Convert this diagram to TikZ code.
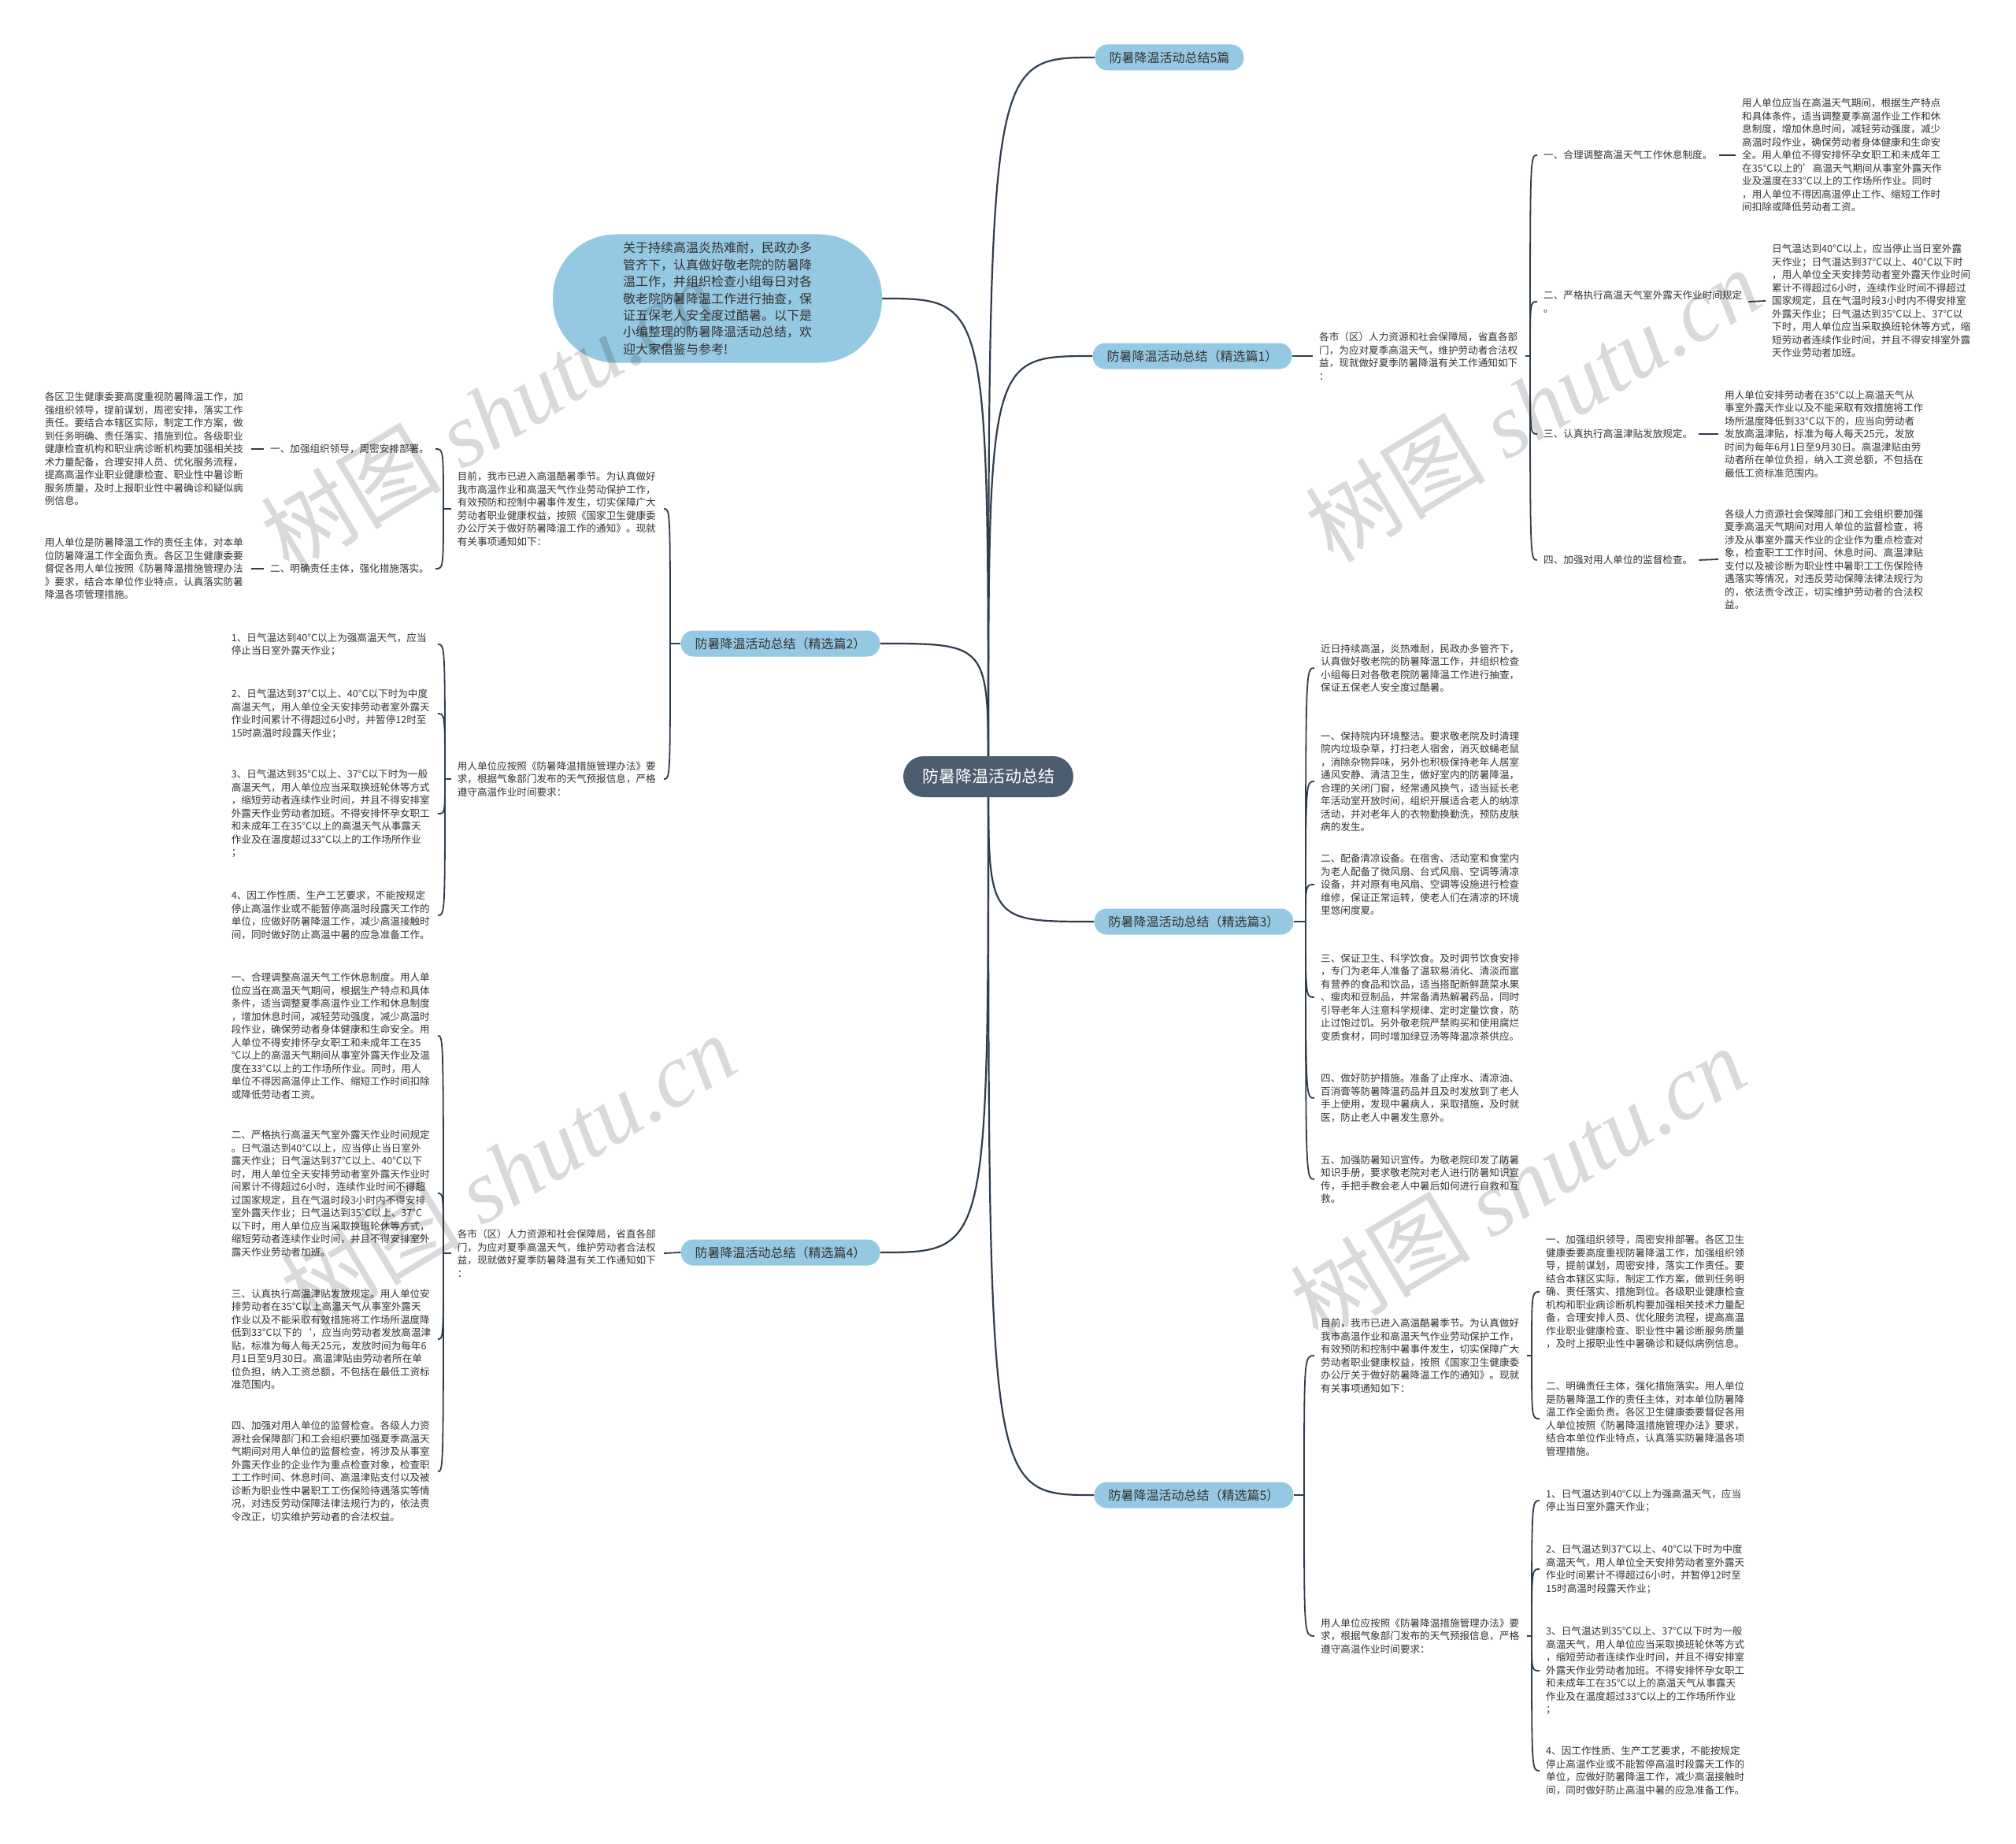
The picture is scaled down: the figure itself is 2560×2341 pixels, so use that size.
\documentclass[tikz,border=0pt]{standalone}
\usepackage{fontspec}
\setmainfont{Noto Sans CJK SC}
\newfontfamily\markfont{Liberation Serif}
\usetikzlibrary{positioning,backgrounds}

\definecolor{rootfill}{HTML}{4B5D6E}
\definecolor{topicfill}{HTML}{95C8E2}
\definecolor{linkcol}{HTML}{2F3E4E}
\definecolor{ink}{HTML}{333333}

% texts that appear twice
\newcommand{\noticeText}{各市（区）人力资源和社会保障局，省直各部\\门，为应对夏季高温天气，维护劳动者合法权\\益，现就做好夏季防暑降温有关工作通知如下\\：}
\newcommand{\muqianText}{目前，我市已进入高温酷暑季节。为认真做好\\我市高温作业和高温天气作业劳动保护工作，\\有效预防和控制中暑事件发生，切实保障广大\\劳动者职业健康权益，按照《国家卫生健康委\\办公厅关于做好防暑降温工作的通知》。现就\\有关事项通知如下：}
\newcommand{\yaoqiuText}{用人单位应按照《防暑降温措施管理办法》要\\求，根据气象部门发布的天气预报信息，严格\\遵守高温作业时间要求：}
\newcommand{\wenduA}{1、日气温达到40°C以上为强高温天气，应当\\停止当日室外露天作业；}
\newcommand{\wenduB}{2、日气温达到37°C以上、40°C以下时为中度\\高温天气，用人单位全天安排劳动者室外露天\\作业时间累计不得超过6小时，并暂停12时至\\15时高温时段露天作业；}
\newcommand{\wenduC}{3、日气温达到35°C以上、37°C以下时为一般\\高温天气，用人单位应当采取换班轮休等方式\\，缩短劳动者连续作业时间，并且不得安排室\\外露天作业劳动者加班。不得安排怀孕女职工\\和未成年工在35°C以上的高温天气从事露天\\作业及在温度超过33°C以上的工作场所作业\\；}
\newcommand{\wenduD}{4、因工作性质、生产工艺要求，不能按规定\\停止高温作业或不能暂停高温时段露天工作的\\单位，应做好防暑降温工作，减少高温接触时\\间，同时做好防止高温中暑的应急准备工作。}

\tikzset{
  rootnode/.style={fill=rootfill, text=white, rounded corners=26pt, minimum height=52pt, inner xsep=24pt, font=\fontsize{21}{25}\selectfont},
  topic/.style={fill=topicfill, text=ink, rounded corners=16pt, minimum height=33pt, inner xsep=18pt, font=\fontsize{16}{19}\selectfont},
  bubble/.style={fill=topicfill, text=ink, rounded corners=80pt, minimum width=418pt, minimum height=163pt, align=left, font=\fontsize{16}{21.4}\selectfont},
  lbl/.style={text=ink, align=left, inner xsep=8pt, inner ysep=1pt, font=\fontsize{12.6}{16.5}\selectfont},
  para/.style={lbl, text width=254pt},
  trunk/.style={draw=linkcol, line width=2.2pt},
  twig/.style={draw=linkcol, line width=1.8pt},
  wmark/.style={opacity=0.15, rotate=31, font=\fontsize{115}{120}\selectfont}
}

\begin{document}
\begin{tikzpicture}[x=1pt,y=-1pt]
\useasboundingbox (0,0) rectangle (2560,2341);

% centre, intro and topics
\node[rootnode] (root) at (1255,986) {防暑降温活动总结};
\node[bubble] (intro) at (911,379) {关于持续高温炎热难耐，民政办多\\管齐下，认真做好敬老院的防暑降\\温工作，并组织检查小组每日对各\\敬老院防暑降温工作进行抽查，保\\证五保老人安全度过酷暑。以下是\\小编整理的防暑降温活动总结，欢\\迎大家借鉴与参考!};
\node[topic] (b0) at (1485,73) {防暑降温活动总结5篇};
\node[topic] (b1) at (1514,452) {防暑降温活动总结（精选篇1）};
\node[topic] (b2) at (991,817) {防暑降温活动总结（精选篇2）};
\node[topic] (b3) at (1516,1170) {防暑降温活动总结（精选篇3）};
\node[topic] (b4) at (991,1590) {防暑降温活动总结（精选篇4）};
\node[topic] (b5) at (1516,1898) {防暑降温活动总结（精选篇5）};

% topic 1
\node[para, anchor=west] (t1) at (1667,452) {\noticeText};
\coordinate (j1) at (1943,452);
\node[lbl, anchor=west] (l1a) at (1952,197) {一、合理调整高温天气工作休息制度。};
\node[lbl, anchor=west] (l1b) at (1952,383) {二、严格执行高温天气室外露天作业时间规定\\。};
\node[lbl, anchor=west] (l1c) at (1952,551) {三、认真执行高温津贴发放规定。};
\node[lbl, anchor=west] (l1d) at (1952,711) {四、加强对用人单位的监督检查。};
\node[para, anchor=west] (d1a) at (2204,197) {用人单位应当在高温天气期间，根据生产特点\\和具体条件，适当调整夏季高温作业工作和休\\息制度，增加休息时间，减轻劳动强度，减少\\高温时段作业，确保劳动者身体健康和生命安\\全。用人单位不得安排怀孕女职工和未成年工\\在35°C以上的'高温天气期间从事室外露天作\\业及温度在33°C以上的工作场所作业。同时\\，用人单位不得因高温停止工作、缩短工作时\\间扣除或降低劳动者工资。};
\node[para, anchor=west] (d1b) at (2242,382) {日气温达到40°C以上，应当停止当日室外露\\天作业；日气温达到37°C以上、40°C以下时\\，用人单位全天安排劳动者室外露天作业时间\\累计不得超过6小时，连续作业时间不得超过\\国家规定，且在气温时段3小时内不得安排室\\外露天作业；日气温达到35°C以上、37°C以\\下时，用人单位应当采取换班轮休等方式，缩\\短劳动者连续作业时间，并且不得安排室外露\\天作业劳动者加班。};
\node[para, anchor=west] (d1c) at (2182,551) {用人单位安排劳动者在35°C以上高温天气从\\事室外露天作业以及不能采取有效措施将工作\\场所温度降低到33°C以下的，应当向劳动者\\发放高温津贴，标准为每人每天25元，发放\\时间为每年6月1日至9月30日。高温津贴由劳\\动者所在单位负担，纳入工资总额，不包括在\\最低工资标准范围内。};
\node[para, anchor=west] (d1d) at (2182,710) {各级人力资源社会保障部门和工会组织要加强\\夏季高温天气期间对用人单位的监督检查，将\\涉及从事室外露天作业的企业作为重点检查对\\象，检查职工工作时间、休息时间、高温津贴\\支付以及被诊断为职业性中暑职工工伤保险待\\遇落实等情况，对违反劳动保障法律法规行为\\的，依法责令改正，切实维护劳动者的合法权\\益。};
\draw[twig] (b1.east) -- (t1.west);
\draw[twig] (t1.east) -- (j1);
\foreach \p in {l1a,l1b,l1c,l1d}
  \draw[twig] (j1) .. controls (j1 |- \p.west) .. (\p.west);
\foreach \p/\q in {l1a/d1a,l1b/d1b,l1c/d1c,l1d/d1d}
  \draw[twig] (\p.east) -- (\q.west);

% topic 2
\coordinate (j2) at (851,817);
\node[para, anchor=east] (t2) at (843,646) {\muqianText};
\node[para, anchor=east] (t2b) at (843,989) {\yaoqiuText};
\coordinate (j2a) at (563,646);
\node[lbl, anchor=east] (k1l) at (553,570) {一、加强组织领导，周密安排部署。};
\node[lbl, anchor=east] (k2l) at (553,722) {二、明确责任主体，强化措施落实。};
\node[para, anchor=east] (k1) at (319,570) {各区卫生健康委要高度重视防暑降温工作，加\\强组织领导，提前谋划，周密安排，落实工作\\责任。要结合本辖区实际，制定工作方案，做\\到任务明确、责任落实、措施到位。各级职业\\健康检查机构和职业病诊断机构要加强相关技\\术力量配备，合理安排人员、优化服务流程，\\提高高温作业职业健康检查、职业性中暑诊断\\服务质量，及时上报职业性中暑确诊和疑似病\\例信息。};
\node[para, anchor=east] (k2) at (319,722) {用人单位是防暑降温工作的责任主体，对本单\\位防暑降温工作全面负责。各区卫生健康委要\\督促各用人单位按照《防暑降温措施管理办法\\》要求，结合本单位作业特点，认真落实防暑\\降温各项管理措施。};
\coordinate (j2b) at (565,989);
\node[para, anchor=east] (i1) at (556,818) {\wenduA};
\node[para, anchor=east] (i2) at (556,906) {\wenduB};
\node[para, anchor=east] (i3) at (556,1033) {\wenduC};
\node[para, anchor=east] (i4) at (556,1162) {\wenduD};
\draw[twig] (b2.west) -- (j2);
\foreach \p in {t2,t2b}
  \draw[twig] (j2) .. controls (j2 |- \p.east) .. (\p.east);
\draw[twig] (t2.west) -- (j2a);
\foreach \p in {k1l,k2l}
  \draw[twig] (j2a) .. controls (j2a |- \p.east) .. (\p.east);
\draw[twig] (k1l.west) -- (k1.east);
\draw[twig] (k2l.west) -- (k2.east);
\draw[twig] (t2b.west) -- (j2b);
\foreach \p in {i1,i2,i3,i4}
  \draw[twig] (j2b) .. controls (j2b |- \p.east) .. (\p.east);

% topic 3
\coordinate (j3) at (1658,1170);
\node[para, anchor=west] (p0) at (1669,848) {近日持续高温，炎热难耐，民政办多管齐下，\\认真做好敬老院的防暑降温工作，并组织检查\\小组每日对各敬老院防暑降温工作进行抽查，\\保证五保老人安全度过酷暑。};
\node[para, anchor=west] (p1) at (1669,992) {一、保持院内环境整洁。要求敬老院及时清理\\院内垃圾杂草，打扫老人宿舍，消灭蚊蝇老鼠\\，消除杂物异味，另外也积极保持老年人居室\\通风安静、清洁卫生，做好室内的防暑降温，\\合理的关闭门窗，经常通风换气，适当延长老\\年活动室开放时间，组织开展适合老人的纳凉\\活动，并对老年人的衣物勤换勤洗，预防皮肤\\病的发生。};
\node[para, anchor=west] (p2) at (1669,1123) {二、配备清凉设备。在宿舍、活动室和食堂内\\为老人配备了微风扇、台式风扇、空调等清凉\\设备，并对原有电风扇、空调等设施进行检查\\维修，保证正常运转，使老人们在清凉的环境\\里悠闲度夏。};
\node[para, anchor=west] (p3) at (1669,1266) {三、保证卫生、科学饮食。及时调节饮食安排\\，专门为老年人准备了温软易消化、清淡而富\\有营养的食品和饮品，适当搭配新鲜蔬菜水果\\、瘦肉和豆制品，并常备清热解暑药品，同时\\引导老年人注意科学规律、定时定量饮食，防\\止过饱过饥。另外敬老院严禁购买和使用腐烂\\变质食材，同时增加绿豆汤等降温凉茶供应。};
\node[para, anchor=west] (p4) at (1669,1394) {四、做好防护措施。准备了止痒水、清凉油、\\百消膏等防暑降温药品并且及时发放到了老人\\手上使用，发现中暑病人，采取措施，及时就\\医，防止老人中暑发生意外。};
\node[para, anchor=west] (p5) at (1669,1497) {五、加强防暑知识宣传。为敬老院印发了防暑\\知识手册，要求敬老院对老人进行防暑知识宣\\传，手把手教会老人中暑后如何进行自救和互\\救。};
\draw[twig] (b3.east) -- (j3);
\foreach \p in {p0,p1,p2,p3,p4,p5}
  \draw[twig] (j3) .. controls (j3 |- \p.west) .. (\p.west);

% topic 4
\node[para, anchor=east] (t4) at (843,1591) {\noticeText};
\coordinate (j4a) at (563,1591);
\node[para, anchor=east] (e1) at (556,1315) {一、合理调整高温天气工作休息制度。用人单\\位应当在高温天气期间，根据生产特点和具体\\条件，适当调整夏季高温作业工作和休息制度\\，增加休息时间，减轻劳动强度，减少高温时\\段作业，确保劳动者身体健康和生命安全。用\\人单位不得安排怀孕女职工和未成年工在35\\°C以上的高温天气期间从事室外露天作业及温\\度在33°C以上的工作场所作业。同时，用人\\单位不得因高温停止工作、缩短工作时间扣除\\或降低劳动者工资。};
\node[para, anchor=east] (e2) at (556,1515) {二、严格执行高温天气室外露天作业时间规定\\。日气温达到40°C以上，应当停止当日室外\\露天作业；日气温达到37°C以上、40°C以下\\时，用人单位全天安排劳动者室外露天作业时\\间累计不得超过6小时，连续作业时间不得超\\过国家规定，且在气温时段3小时内不得安排\\室外露天作业；日气温达到35°C以上、37°C\\以下时，用人单位应当采取换班轮休等方式，\\缩短劳动者连续作业时间，并且不得安排室外\\露天作业劳动者加班。};
\node[para, anchor=east] (e3) at (556,1700) {三、认真执行高温津贴发放规定。用人单位安\\排劳动者在35°C以上高温天气从事室外露天\\作业以及不能采取有效措施将工作场所温度降\\低到33°C以下的`，应当向劳动者发放高温津\\贴，标准为每人每天25元，发放时间为每年6\\月1日至9月30日。高温津贴由劳动者所在单\\位负担，纳入工资总额，不包括在最低工资标\\准范围内。};
\node[para, anchor=east] (e4) at (556,1868) {四、加强对用人单位的监督检查。各级人力资\\源社会保障部门和工会组织要加强夏季高温天\\气期间对用人单位的监督检查，将涉及从事室\\外露天作业的企业作为重点检查对象，检查职\\工工作时间、休息时间、高温津贴支付以及被\\诊断为职业性中暑职工工伤保险待遇落实等情\\况，对违反劳动保障法律法规行为的，依法责\\令改正，切实维护劳动者的合法权益。};
\draw[twig] (b4.west) -- (t4.east);
\draw[twig] (t4.west) -- (j4a);
\foreach \p in {e1,e2,e3,e4}
  \draw[twig] (j4a) .. controls (j4a |- \p.east) .. (\p.east);

% topic 5
\coordinate (j5) at (1656,1898);
\node[para, anchor=west] (t5) at (1669,1721) {\muqianText};
\node[para, anchor=west] (t5b) at (1669,2077) {\yaoqiuText};
\coordinate (j5a) at (1945,1721);
\coordinate (j5b) at (1945,2077);
\node[para, anchor=west] (f1) at (1955,1640) {一、加强组织领导，周密安排部署。各区卫生\\健康委要高度重视防暑降温工作，加强组织领\\导，提前谋划，周密安排，落实工作责任。要\\结合本辖区实际，制定工作方案，做到任务明\\确、责任落实、措施到位。各级职业健康检查\\机构和职业病诊断机构要加强相关技术力量配\\备，合理安排人员、优化服务流程，提高高温\\作业职业健康检查、职业性中暑诊断服务质量\\，及时上报职业性中暑确诊和疑似病例信息。};
\node[para, anchor=west] (f2) at (1955,1801) {二、明确责任主体，强化措施落实。用人单位\\是防暑降温工作的责任主体，对本单位防暑降\\温工作全面负责。各区卫生健康委要督促各用\\人单位按照《防暑降温措施管理办法》要求，\\结合本单位作业特点，认真落实防暑降温各项\\管理措施。};
\node[para, anchor=west] (g1) at (1955,1905) {\wenduA};
\node[para, anchor=west] (g2) at (1955,1992) {\wenduB};
\node[para, anchor=west] (g3) at (1955,2121) {\wenduC};
\node[para, anchor=west] (g4) at (1955,2248) {\wenduD};
\draw[twig] (b5.east) -- (j5);
\foreach \p in {t5,t5b}
  \draw[twig] (j5) .. controls (j5 |- \p.west) .. (\p.west);
\draw[twig] (t5.east) -- (j5a);
\draw[twig] (t5b.east) -- (j5b);
\foreach \p in {f1,f2}
  \draw[twig] (j5a) .. controls (j5a |- \p.west) .. (\p.west);
\foreach \p in {g1,g2,g3,g4}
  \draw[twig] (j5b) .. controls (j5b |- \p.west) .. (\p.west);

% main curves behind the centre
\begin{scope}[on background layer]
  \fill[white] (0,0) rectangle (2560,2341);
  \foreach \p/\a in {b0/west,b1/west,b3/west,b5/west,b2/east,b4/east,intro/east}
    \draw[trunk] (root.center) .. controls (root.center |- \p.\a) .. (\p.\a);
\end{scope}

% watermarks
\node[wmark] (wm1) at (620,526) {树图 {\markfont\itshape shutu.cn}};
\node[wmark] (wm2) at (1946,514) {树图 {\markfont\itshape shutu.cn}};
\node[wmark] (wm3) at (645,1486) {树图 {\markfont\itshape shutu.cn}};
\node[wmark] (wm4) at (1927,1502) {树图 {\markfont\itshape shutu.cn}};
\end{tikzpicture}
\end{document}
